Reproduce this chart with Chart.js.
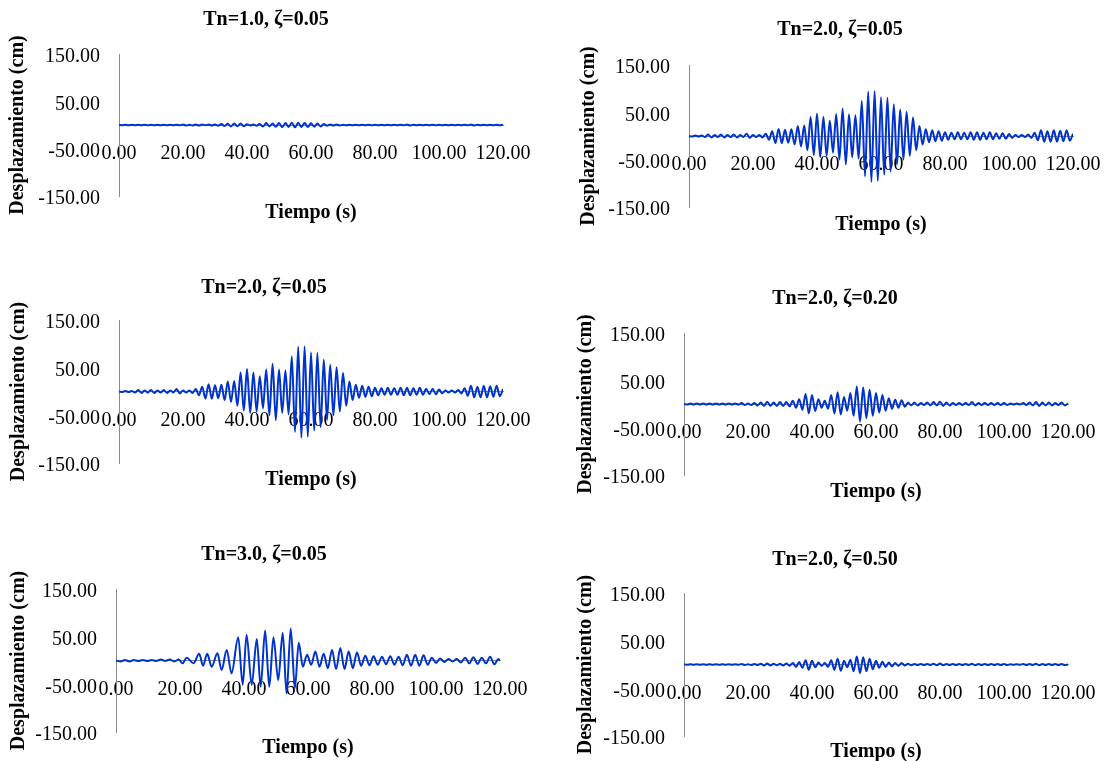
<!DOCTYPE html>
<html>
<head>
<meta charset="utf-8">
<script src="https://cdn.jsdelivr.net/npm/chart.js"></script>
<style>
  body { margin: 0; background: #fff; width: 1105px; height: 761px; overflow: hidden; position: relative; }
  canvas { position: absolute; }
</style>
</head>
<body>
<canvas id="c1"></canvas>
<canvas id="c2"></canvas>
<canvas id="c3"></canvas>
<canvas id="c4"></canvas>
<canvas id="c5"></canvas>
<canvas id="c6"></canvas>
<script>
// time grid (s) for the Tn=1 and Tn=2 records, one extreme per second
const secs = Array.from({ length: 121 }, (_, i) => i);

// displacement extremes (cm)
const tn1z05 = [
  0, -0.5, 0.5, -0.5, 0.5, -0.5, 0.5, -0.5, 0.5, -0.5,
  0.5, -0.5, 0.5, -0.5, 0.5, -0.5, 0.5, -0.5, 0.5, -0.5,
  1, -1, 0.5, -1, 1, -1, 1, -0.5, 1, -1,
  1, -1.5, 2, -2, 2.5, -3, 3, -2.5, 3, -2.5,
  1.5, -1, 1, -1.5, 2, -3, 4, -3, 3, -3.5,
  4, -4.5, 4, -4, 5, -5, 4.5, -4, 4, -4,
  3.5, -3.5, 3, -3, 2, -1.5, 1, -1, 1, -1,
  0.5, -0.5, 0.5, -0.5, 0.5, -0.5, 0.5, -0.5, 0.5, -0.5,
  0.5, -0.5, 0.5, -0.5, 0.5, -0.5, 0.5, -0.5, 0.5, -0.5,
  1, -1, 0.5, -0.5, 0.5, -0.5, 0.5, -0.5, 0.5, -0.5,
  0.5, -0.5, 0.5, -0.5, 0.5, -0.5, 0.5, -0.5, 0.5, -0.5,
  1, -1, 0.5, -0.5, 0.5, -0.5, 0.5, -0.5, 0.5, -0.5, 0
];

const tn2z05 = [
  0, -1, 1, -1, 1, -2, 3, -3, 2, -2,
  3, -3, 2, -2, 3, -3, 2, -2, 5, -4,
  2, -2, 2, -3, 5, -8, 10, -15, 15, -15,
  13, -14, 14, -18, 21, -22, 22, -30, 40, -40,
  47, -45, 40, -42, 32, -35, 46, -50, 58, -60,
  46, -45, 44, -48, 74, -85, 94, -97, 95, -95,
  82, -82, 81, -75, 67, -60, 56, -50, 51, -42,
  39, -30, 21, -18, 14, -13, 12, -11, 10, -10,
  8, -8, 7, -7, 8, -7, 7, -7, 8, -8,
  8, -8, 7, -7, 8, -7, 6, -6, 6, -6,
  4, -4, 2, -2, 2, -2, 3, -4, 7, -9,
  12, -12, 10, -12, 12, -12, 11, -11, 12, -10, 5
];

const tn2z20 = [
  0, -1, 1, -1, 1, -1, 1, -1, 1, -1,
  1, -1, 1, -1, 1, -1, 1, -1, 2, -2,
  1, -2, 2, -3, 3, -4, 5, -4, 3, -4,
  4, -4, 4, -5, 7, -8, 10, -12, 21, -20,
  19, -15, 10, -8, 7, -10, 19, -20, 25, -22,
  15, -14, 23, -25, 37, -37, 35, -30, 30, -25,
  23, -18, 19, -14, 12, -10, 9, -8, 8, -6,
  3, -3, 3, -3, 2, -2, 3, -3, 4, -3,
  5, -4, 3, -3, 2, -2, 2, -2, 2, -2,
  4, -3, 2, -2, 2, -2, 2, -2, 2, -2,
  2, -2, 1, -1, 1, -1, 2, -2, 3, -3,
  4, -4, 3, -3, 3, -3, 2, -2, 3, -3, 1
];

const tn2z50 = [
  0, -0.5, 0.5, -0.5, 0.5, -0.5, 0.5, -0.5, 0.5, -0.5,
  0.5, -0.5, 0.5, -0.5, 0.5, -0.5, 0.5, -0.5, 1, -1,
  0.5, -1, 1, -1, 1.5, -2, 2, -2, 1.5, -1.5,
  1.5, -2, 2, -2.5, 3, -5, 5, -7, 9, -11,
  8, -6, 4, -3, 3, -5, 9, -11, 12, -13,
  8, -6, 10, -14, 17, -18, 15, -14, 12, -10,
  8, -7, 6, -5, 4, -4, 3, -3, 3, -2,
  1.5, -1.5, 1, -1, 1, -1, 1, -1, 1.5, -1.5,
  2, -1.5, 1, -1, 1, -1, 1, -1, 1, -1,
  1.5, -1.5, 1, -1, 1, -1, 1, -1, 1, -1,
  1, -1, 0.5, -0.5, 0.5, -0.5, 1, -1, 1, -1,
  1.5, -1.5, 1, -1, 1, -1, 1, -1, 1, -1, 0
];

// Tn=3 record: times (s) of the extremes and their values (cm)
const tn3Time = [
  0, 1.4, 2.8, 4.2, 5.6, 7.0, 8.4, 9.8, 11.2, 12.6,
  14.0, 15.4, 16.8, 18.2, 19.6, 20.8, 22.1, 24.2, 26.0, 27.2,
  28.5, 29.9, 31.7, 33.0, 34.6, 36.1, 38.2, 39.6, 40.8, 42.4,
  44.0, 45.2, 46.6, 47.9, 49.2, 50.7, 52.1, 53.3, 54.6, 55.9,
  57.1, 58.4, 59.7, 61.0, 62.3, 63.6, 64.9, 66.2, 67.5, 68.8,
  70.1, 71.4, 72.7, 74.0, 75.3, 76.6, 77.9, 79.2, 80.5, 81.8,
  83.1, 84.4, 85.7, 87.0, 88.3, 89.6, 90.9, 92.2, 93.5, 94.8,
  96.1, 97.4, 98.7, 100.0, 101.3, 102.6, 103.9, 105.2, 106.5, 107.8,
  109.1, 110.4, 111.7, 113.0, 114.3, 115.6, 116.9, 118.2, 119.5, 120.0
];
const tn3z05 = [
  0, -2, 1, -2, 1, -1, 1, -1, 1, -1,
  2, -1, 2, -2, 2, -6, 6, -6, 14, -11,
  14, -13, 15, -20, 22, -27, 49, -51, 54, -51,
  45, -55, 63, -55, 49, -41, 58, -69, 67, -58,
  37, -13, 12, -9, 19, -13, 14, -16, 22, -18,
  26, -18, 19, -16, 17, -11, 10, -10, 9, -9,
  8, -8, 9, -9, 8, -10, 12, -11, 12, -11,
  11, -9, 6, -5, 4, -3, 3, -2, 3, -4,
  6, -6, 7, -7, 6, -6, 8, -8, 3, 0
];

const yTicks = [-150, -50, 50, 150];
const xTicks = [0, 20, 40, 60, 80, 100, 120];

const FONT = "'Liberation Serif', 'Times New Roman', serif";
const LINE = '#0033cc';
const AXIS = '#8a8a8a';

// placement of each panel on the page (px)
const panels = [
  { id: 'c1', title: 'Tn=1.0, ζ=0.05', t: secs, d: tn1z05, L: -20, T: 0,   tx: 266, ty: 20,  pl: 119, pr: 503,  pt: 54,  pb: 196, yx: 18,  xy: 213 },
  { id: 'c2', title: 'Tn=2.0, ζ=0.05', t: secs, d: tn2z05, L: 540, T: 0,   tx: 840, ty: 30,  pl: 689, pr: 1073, pt: 65,  pb: 207, yx: 589, xy: 225 },
  { id: 'c3', title: 'Tn=2.0, ζ=0.05', t: secs, d: tn2z05, L: -20, T: 262, tx: 264, ty: 288, pl: 119, pr: 503,  pt: 320, pb: 463, yx: 19,  xy: 480 },
  { id: 'c4', title: 'Tn=2.0, ζ=0.20', t: secs, d: tn2z20, L: 540, T: 262, tx: 835, ty: 299, pl: 684, pr: 1068, pt: 333, pb: 475, yx: 586, xy: 492 },
  { id: 'c5', title: 'Tn=3.0, ζ=0.05', t: tn3Time, d: tn3z05, L: -20, T: 520, tx: 264, ty: 555, pl: 116, pr: 500, pt: 589, pb: 732, yx: 19, xy: 748 },
  { id: 'c6', title: 'Tn=2.0, ζ=0.50', t: secs, d: tn2z50, L: 540, T: 520, tx: 835, ty: 560, pl: 684, pr: 1068, pt: 593, pb: 736, yx: 586, xy: 752 }
];

const H = 250;

panels.forEach(p => {
  const W = 2 * (p.tx - p.L);
  const cv = document.getElementById(p.id);
  cv.width = W; cv.height = H;
  cv.style.width = W + 'px'; cv.style.height = H + 'px';
  cv.style.left = p.L + 'px'; cv.style.top = p.T + 'px';

  new Chart(cv, {
    type: 'line',
    data: {
      datasets: [{
        data: p.t.map((x, i) => ({ x: x, y: p.d[i] })),
        xAxisID: 'x', yAxisID: 'y',
        borderColor: LINE, borderWidth: 2,
        pointRadius: 0, fill: false,
        cubicInterpolationMode: 'monotone'
      }]
    },
    options: {
      responsive: false, animation: false, devicePixelRatio: 1,
      layout: { padding: 0 },
      plugins: {
        legend: { display: false },
        tooltip: { enabled: false },
        title: {
          display: true, text: p.title, color: '#000',
          font: { family: FONT, size: 20, weight: 'bold' },
          padding: { top: p.ty - p.T - 12, bottom: p.pt - p.ty - 12 }
        }
      },
      scales: {
        x: {
          type: 'linear', axis: 'x', position: { y: 0 },
          min: 0, max: 120,
          afterBuildTicks: s => { s.ticks = xTicks.map(v => ({ value: v })); },
          ticks: { color: '#000', font: { family: FONT, size: 20 }, padding: 17, maxRotation: 0, autoSkip: false,
                   callback: v => Number(v).toFixed(2) },
          grid: { display: false, drawTicks: false },
          border: { display: true, color: AXIS, width: 1 }
        },
        xt: {
          type: 'linear', axis: 'x', position: 'bottom', min: 0, max: 1,
          afterFit: s => { s.height = H - (p.pb - p.T); },
          ticks: { display: false },
          grid: { display: false, drawTicks: false },
          border: { display: false },
          title: { display: true, text: 'Tiempo (s)', color: '#000',
                   font: { family: FONT, size: 20, weight: 'bold' },
                   padding: { top: 0, bottom: H - 12 - (p.xy - p.T) } }
        },
        y: {
          type: 'linear', position: 'left', min: -150, max: 150,
          afterFit: s => { s.width = p.pl - p.L; },
          afterBuildTicks: s => { s.ticks = yTicks.map(v => ({ value: v })); },
          ticks: { color: '#000', font: { family: FONT, size: 20 }, padding: 19, labelOffset: 3,
                   callback: v => Number(v).toFixed(2) },
          grid: { display: false, drawTicks: false },
          border: { display: true, color: AXIS, width: 1 },
          title: { display: true, text: 'Desplazamiento (cm)', color: '#000',
                   font: { family: FONT, size: 20, weight: 'bold' },
                   padding: { top: p.yx - p.L - 12, bottom: 0 } }
        },
        yr: {
          type: 'linear', axis: 'y', position: 'right', min: 0, max: 1,
          afterFit: s => { s.width = W - (p.pr - p.L); },
          ticks: { display: false },
          grid: { display: false, drawTicks: false },
          border: { display: false }
        }
      }
    }
  });
});
</script>
</body>
</html>
